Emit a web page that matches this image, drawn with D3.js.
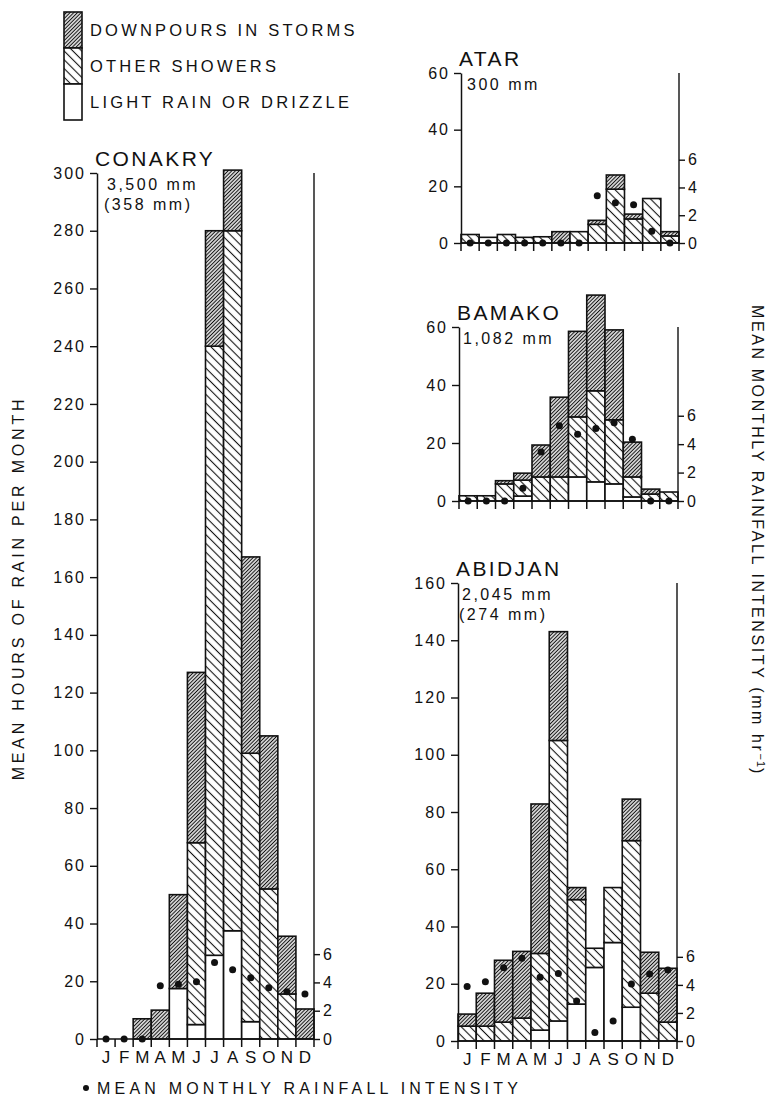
<!DOCTYPE html>
<html lang="en">
<head>
<meta charset="utf-8">
<title>Hours of rain per month, West Africa</title>
<script src="https://cdn.jsdelivr.net/npm/d3@7"></script>
<style>
  body { margin: 0; background: #fff; }
  text { font-family: "Liberation Sans", Arial, sans-serif; fill: #111; }
</style>
</head>
<body>
<script>

// ---- data (hours of rain per month, by type; intensity in mm/hr) ----
var months = ["J", "F", "M", "A", "M", "J", "J", "A", "S", "O", "N", "D"];
var leftTicks = 20;
var rightTicks = [0, 2, 4, 6];

var conakryLight     = [0, 0, 0, 0, 17.5, 5, 29, 37.5, 6, 0, 0, 0];
var conakryShowers   = [0, 0, 0, 0, 0, 63, 211, 242.5, 93, 52, 15.6, 0];
var conakryDownpours = [0, 0, 7, 10, 32.5, 59, 40, 21, 68, 53, 20, 10.4];
var conakryIntensity = [0, 0, 0, 3.77, 3.87, 4.05, 5.4, 4.9, 4.33, 3.63, 3.34, 3.18];

var atarLight     = [0, 2, 0, 0, 0, 0, 0, 0, 0, 0, 0, 0];
var atarShowers   = [3, 0, 3, 2, 2.2, 0, 4, 6.6, 19, 8.5, 15.7, 2.5];
var atarDownpours = [0, 0, 0, 0, 0, 4, 0, 1.4, 5, 1.7, 0, 1.5];
var atarIntensity = [0, 0, 0, 0, 0, 0, 0, 3.4, 2.9, 2.75, 0.85, 0];

var bamakoLight     = [0, 0, 0, 1.7, 0, 0, 8.3, 6.6, 5.9, 1.4, 0, 0];
var bamakoShowers   = [1.8, 1.8, 5.9, 5.5, 8.3, 8.3, 20.7, 31.4, 22.1, 6.9, 2.4, 3.1];
var bamakoDownpours = [0, 0, 1.1, 2.4, 11, 27.5, 29.5, 33, 31, 12, 1.7, 0];
var bamakoIntensity = [0, 0, 0, 0.9, 3.45, 5.3, 4.7, 5.1, 5.5, 4.35, 0, 0];

var abidjanLight     = [0, 0, 0, 0, 3.8, 7, 12.9, 25.7, 34.4, 11.8, 0, 0];
var abidjanShowers   = [5.2, 5.2, 6.6, 8, 26.8, 98, 36.5, 6.7, 19.2, 58.2, 16.7, 6.6];
var abidjanDownpours = [4.2, 11.5, 21.6, 23.3, 52.2, 38, 4.2, 0, 0, 14.5, 14.3, 18.8];
var abidjanIntensity = [3.88, 4.23, 5.22, 5.9, 4.54, 4.82, 2.85, 0.61, 1.43, 4.07, 4.78, 5.06];

// one intensity unit (mm/hr) drawn as this many hours on the left scale
var intHours = 4.9;

var panels = [
  {name: "CONAKRY", notes: ["3,500 mm", "(358 mm)"], max: 300,
   light: conakryLight, showers: conakryShowers, downpours: conakryDownpours, intensity: conakryIntensity,
   x0: 97, x1: 314, y0: 1039, y1: 173, noteDx: 10, labels: true},
  {name: "ATAR", notes: ["300 mm"], max: 60,
   light: atarLight, showers: atarShowers, downpours: atarDownpours, intensity: atarIntensity,
   x0: 461, x1: 679, y0: 243, y1: 73, noteDx: 6, labels: false},
  {name: "BAMAKO", notes: ["1,082 mm"], max: 60,
   light: bamakoLight, showers: bamakoShowers, downpours: bamakoDownpours, intensity: bamakoIntensity,
   x0: 459, x1: 678, y0: 501, y1: 327, noteDx: 4, labels: false},
  {name: "ABIDJAN", notes: ["2,045 mm", "(274 mm)"], max: 160,
   light: abidjanLight, showers: abidjanShowers, downpours: abidjanDownpours, intensity: abidjanIntensity,
   x0: 458, x1: 677, y0: 1041, y1: 583, noteDx: 4, labels: true}
];

var w = 771;
var h = 1098;
var ink = "#111";

var svg = d3.select("body")
  .append("svg")
    .attr("width", w)
    .attr("height", h);

svg.append("rect")
  .attr("width", w)
  .attr("height", h)
  .attr("fill", "white");

// hatch patterns
var defs = svg.append("defs");

function hatch(id, size, angle, sw) {
  var p = defs.append("pattern")
    .attr("id", id)
    .attr("patternUnits", "userSpaceOnUse")
    .attr("width", size)
    .attr("height", size)
    .attr("patternTransform", "rotate(" + angle + ")");
  p.append("rect").attr("width", size).attr("height", size).attr("fill", "white");
  p.append("line")
    .attr("x1", size / 2).attr("x2", size / 2)
    .attr("y1", 0).attr("y2", size)
    .attr("stroke", ink)
    .attr("stroke-width", sw);
}
hatch("dense", 2.6, 45, 1.2);
hatch("sparse", 6.2, -45, 1.1);

// ---- panels ----
panels.forEach(drawPanel);

function drawPanel(p) {
  var x = d3.scaleBand()
    .domain(d3.range(12))
    .range([p.x0, p.x1])
    .padding(0);

  var y = d3.scaleLinear()
    .domain([0, p.max])
    .range([p.y0, p.y1]);

  var yi = d3.scaleLinear()
    .domain([0, 6])
    .range([p.y0, y(6 * intHours)]);

  var g = svg.append("g");

  // stacked segments: light, other showers, downpours
  var segs = [];
  months.forEach(function(m, i) {
    var a = p.light[i], b = a + p.showers[i], c = b + p.downpours[i];
    segs.push({i: i, lo: 0, hi: a, fill: "white"});
    segs.push({i: i, lo: a, hi: b, fill: "url(#sparse)"});
    segs.push({i: i, lo: b, hi: c, fill: "url(#dense)"});
  });

  g.append("g")
    .selectAll("rect")
    .data(segs.filter(d => d.hi > d.lo))
    .enter().append("rect")
      .attr("x", d => x(d.i))
      .attr("width", x.bandwidth())
      .attr("y", d => y(d.hi))
      .attr("height", d => y(d.lo) - y(d.hi))
      .attr("fill", d => d.fill)
      .attr("stroke", ink)
      .attr("stroke-width", 1.6);

  // left axis
  var yAxis = d3.axisLeft(y)
    .tickValues(d3.range(0, p.max + 1, leftTicks))
    .tickSize(7)
    .tickSizeOuter(0)
    .tickPadding(4);

  var ga = g.append("g")
    .attr("transform", `translate(${p.x0},0)`)
    .call(yAxis);
  styleAxis(ga, 16);

  // baseline and month boundary ticks
  g.append("line")
    .attr("x1", p.x0).attr("x2", p.x1)
    .attr("y1", p.y0).attr("y2", p.y0)
    .attr("stroke", ink).attr("stroke-width", 1.5);

  var edges = d3.range(13).map(i => i < 12 ? x(i) : x.range()[1]);
  g.append("g")
    .selectAll("line")
    .data(edges)
    .enter().append("line")
      .attr("x1", d => d).attr("x2", d => d)
      .attr("y1", p.y0).attr("y2", p.y0 + 8)
      .attr("stroke", ink).attr("stroke-width", 1.5);

  // right line and intensity axis
  g.append("line")
    .attr("x1", p.x1).attr("x2", p.x1)
    .attr("y1", y(p.max)).attr("y2", p.y0)
    .attr("stroke", ink).attr("stroke-width", 1.4);

  var rAxis = d3.axisRight(yi)
    .tickValues(rightTicks)
    .tickFormat(d3.format("d"))
    .tickSize(6)
    .tickSizeOuter(0)
    .tickPadding(3);

  var gr = g.append("g")
    .attr("transform", `translate(${p.x1},0)`)
    .call(rAxis);
  gr.select(".domain").remove();
  styleAxis(gr, 16);

  // month letters
  if (p.labels) {
    var xAxis = d3.axisBottom(x)
      .tickSize(0)
      .tickPadding(0)
      .tickFormat(i => months[i]);
    var gx = g.append("g")
      .attr("transform", `translate(0,${p.y0 + 12})`)
      .call(xAxis);
    gx.select(".domain").remove();
    styleAxis(gx, 17);
    gx.selectAll("text").attr("letter-spacing", 0);
  }

  // intensity dots
  g.append("g")
    .selectAll("circle")
    .data(p.intensity)
    .enter().append("circle")
      .attr("cx", (d, i) => x(i) + x.bandwidth() / 2)
      .attr("cy", d => yi(d))
      .attr("r", 3.5)
      .attr("fill", ink);

  // station name and totals
  g.append("text")
    .attr("x", p.x0 - 2)
    .attr("y", p.y1 - 7)
    .attr("font-size", 21)
    .attr("letter-spacing", 2.4)
    .text(p.name);

  p.notes.forEach(function(t, k) {
    g.append("text")
      .attr("x", p.x0 + p.noteDx - (t[0] == "(" ? 3 : 0))
      .attr("y", p.y1 + 17 + k * 20)
      .attr("font-size", 16)
      .attr("letter-spacing", 2.5)
      .text(t);
  });
}

function styleAxis(sel, size) {
  sel.attr("font-family", null).attr("font-size", null);
  sel.select(".domain").attr("stroke", ink).attr("stroke-width", 1.5);
  sel.selectAll(".tick line").attr("stroke", ink).attr("stroke-width", 1.4);
  sel.selectAll(".tick text")
    .attr("fill", ink)
    .attr("font-size", size)
    .attr("letter-spacing", 2);
}

// ---- legend ----
var legendRows = [
  {label: "DOWNPOURS IN STORMS", fill: "url(#dense)"},
  {label: "OTHER SHOWERS", fill: "url(#sparse)"},
  {label: "LIGHT RAIN OR DRIZZLE", fill: "white"}
];
var legY = d3.scaleBand().domain(d3.range(3)).range([12, 120]);

var leg = svg.append("g");
leg.selectAll("rect")
  .data(legendRows)
  .enter().append("rect")
    .attr("x", 64)
    .attr("y", (d, i) => legY(i))
    .attr("width", 18)
    .attr("height", legY.bandwidth())
    .attr("fill", d => d.fill)
    .attr("stroke", ink)
    .attr("stroke-width", 1.6);

leg.selectAll("text")
  .data(legendRows)
  .enter().append("text")
    .attr("x", 90)
    .attr("y", (d, i) => legY(i) + legY.bandwidth() / 2 + 6)
    .attr("font-size", 16.5)
    .attr("letter-spacing", 3.2)
    .text(d => d.label);

// ---- axis titles ----
svg.append("text")
  .attr("transform", "translate(24,588) rotate(-90)")
  .attr("text-anchor", "middle")
  .attr("font-size", 16)
  .attr("letter-spacing", 3.8)
  .text("MEAN HOURS OF RAIN PER MONTH");

var rt = svg.append("text")
  .attr("transform", "translate(752,305) rotate(90)")
  .attr("font-size", 16)
  .attr("letter-spacing", 2.6);
rt.append("tspan").text("MEAN MONTHLY RAINFALL INTENSITY (mm hr");
rt.append("tspan").attr("dy", -5).attr("font-size", 11).attr("letter-spacing", 1).text("\u22121");
rt.append("tspan").attr("dy", 5).text(")");

svg.append("circle")
  .attr("cx", 86)
  .attr("cy", 1088)
  .attr("r", 3)
  .attr("fill", ink);

svg.append("text")
  .attr("x", 97)
  .attr("y", 1094)
  .attr("font-size", 16)
  .attr("letter-spacing", 4.2)
  .text("MEAN MONTHLY RAINFALL INTENSITY");

</script>
</body>
</html>
